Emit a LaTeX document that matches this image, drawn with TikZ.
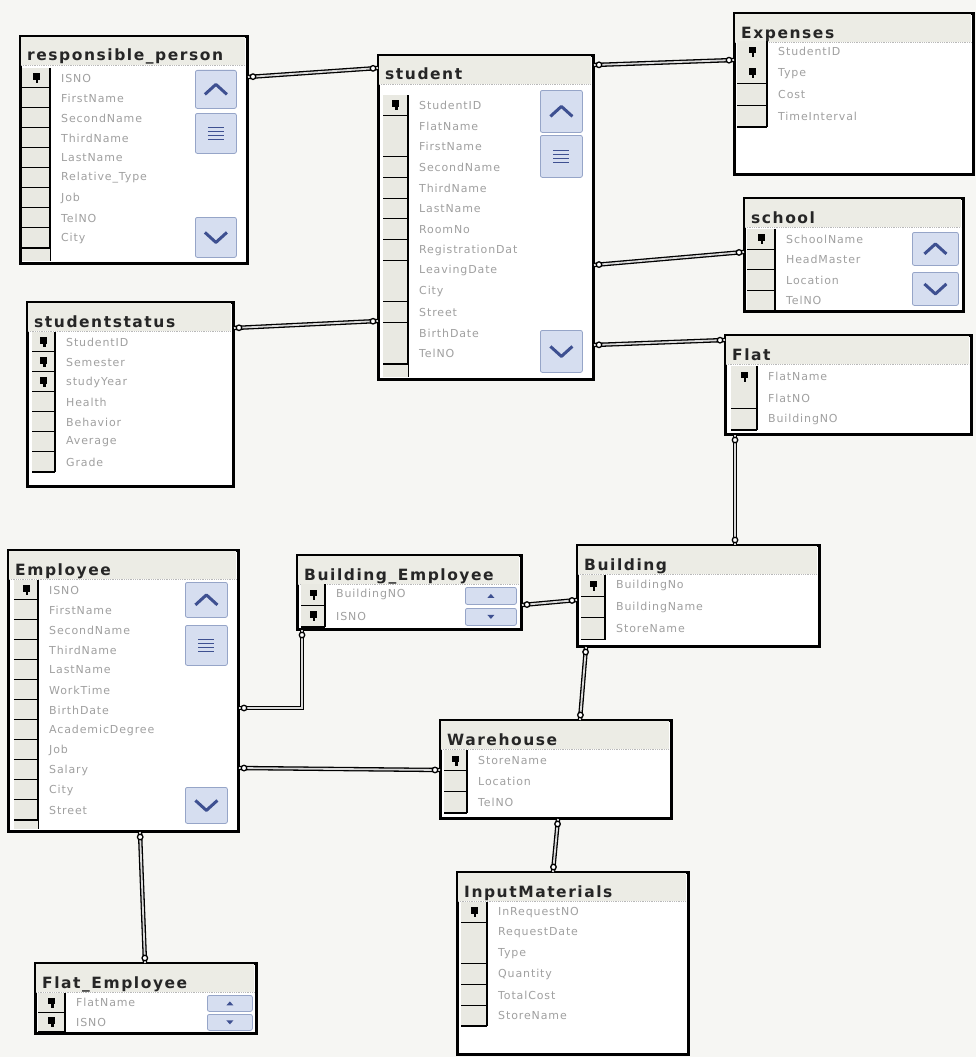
\documentclass[tikz,border=0pt]{standalone}
\usepackage{fontspec}
\setmainfont{DejaVu Sans}
\newfontfamily\ttlfont[LetterSpace=10]{DejaVu Sans}
\newfontfamily\fldfont[LetterSpace=8]{DejaVu Sans}
\usetikzlibrary{calc}
\definecolor{paper}{RGB}{246,246,243}
\definecolor{titlebg}{RGB}{236,236,229}
\definecolor{keybg}{RGB}{233,233,226}
\definecolor{fieldgray}{RGB}{160,160,160}
\definecolor{scrollfill}{RGB}{214,222,240}
\definecolor{scrolledge}{RGB}{150,165,200}
\definecolor{chev}{RGB}{62,80,145}
\tikzset{
 tbl/.style={draw=black, line width=2pt, fill=white, inner sep=0pt, rectangle},
 tblborder/.style={draw=black, line width=2pt},
 ttl/.style={font=\ttlfont\fontsize{15.5}{17}\selectfont\bfseries, text=black!85, inner sep=0pt, anchor=base west},
 fld/.style={font=\fldfont\fontsize{11}{12}\selectfont, text=fieldgray, inner sep=0pt, anchor=west},
 keyline/.style={line width=1.6pt, black},
 btn/.style={fill=scrollfill, draw=scrolledge, line width=0.8pt, rounded corners=2pt, inner sep=0pt},
 chevl/.style={draw=chev, line width=3pt, line join=round},
 rel/.style={draw=black, line width=1.3pt, double=gray!30, double distance=1.8pt},
 endm/.style={circle, draw=black, fill=white, line width=1.3pt, minimum size=5.5pt, inner sep=0pt},
}
% name, x, y, w, h, title
\newcommand\dbtable[6]{%
  \node[tbl, minimum width=#4pt, minimum height=#5pt, anchor=north west] (#1) at (#2,#3) {};
  \fill[titlebg] (#2+1,#3+1) rectangle (#2+#4-1,#3+29);
  \draw[gray!55, densely dotted, line width=0.8pt] (#2+1,#3+29) -- (#2+#4-1,#3+29);
  \node[ttl] (#1-title) at (#2+7,#3+25) {#6};
}
\newcommand\keyicon[2]{%
  \fill[black] (#1-3.5,#2-5) rectangle (#1+3.5,#2+1.5);
  \fill[black] (#1-0.5,#2+1.5) rectangle (#1+2,#2+5);
}
% name, keyL, keyR, top, rowh, vline end, list
\newcommand\dbfields[7]{%
  \foreach \f/\k [count=\i] in {#7} {
    \pgfmathsetmacro\yt{#4+(\i-1)*#5}
    \pgfmathsetmacro\yb{\yt+#5}
    \pgfmathsetmacro\ym{\yt+#5/2}
    \fill[keybg] (#2,\yt) rectangle (#3,\yb);
    \draw[keyline] (#2,\yb) -- (#3,\yb);
    \node[fld] (#1-f\i) at (#3+11,\ym) {\f};
    \ifnum\k=1 \keyicon{#2/2+#3/2}{\ym}\fi
  }
  \draw[keyline] (#3,#4) -- (#3,#6);
}
% name x y w h kind
\newcommand\sbtn[6]{%
  \node[btn, minimum width=#4pt, minimum height=#5pt, anchor=north west] (#1) at (#2,#3) {};
  \ifcase#6
    \draw[chevl] ($(#1.center)+(-11,5)$) -- ($(#1.center)+(0,-5)$) -- ($(#1.center)+(11,5)$);
  \or
    \foreach \dy in {-6,-2,2,6} {\draw[chev, line width=1pt] ($(#1.center)+(-8,\dy)$) -- ++(16,0);}
  \or
    \draw[chevl] ($(#1.center)+(-11,-5)$) -- ($(#1.center)+(0,5)$) -- ($(#1.center)+(11,-5)$);
  \or
    \fill[chev] ($(#1.center)+(-3.5,2)$) -- ($(#1.center)+(0,-2)$) -- ($(#1.center)+(3.5,2)$) -- cycle;
  \or
    \fill[chev] ($(#1.center)+(-3.5,-2)$) -- ($(#1.center)+(0,2)$) -- ($(#1.center)+(3.5,-2)$) -- cycle;
  \fi
}
\newcommand\reborder[1]{\draw[tblborder] (#1.north west) rectangle (#1.south east);}
\newcommand\conn[3]{%
  \draw[rel] (#2) -- (#3);
  \node[endm] (#1-s) at ($(#2)!5pt!(#3)$) {};
  \node[endm] (#1-e) at ($(#3)!5pt!(#2)$) {};
}
\begin{document}
\begin{tikzpicture}[x=1pt,y=-1pt]
\useasboundingbox (0,0) rectangle (976,1057);
\fill[paper] (0,0) rectangle (976,1057);

% responsible_person
\dbtable{rp}{20}{36}{226}{226}{responsible\_person}
\dbfields{rp}{22}{50}{68}{20}{261}{ISNO/1,FirstName/0,SecondName/0,ThirdName/0,LastName/0,Relative\_Type/0,Job/0,TelNO/0,City/0}
\fill[keybg] (22,249) rectangle (50,261);
\sbtn{rp-up}{195}{70}{41}{38}{0}
\sbtn{rp-mid}{195}{113}{41}{40}{1}
\sbtn{rp-dn}{195}{217}{41}{40}{2}
\reborder{rp}

% student
\dbtable{st}{378}{55}{214}{323}{student}
\dbfields{st}{383}{408}{95}{20.7}{377}{StudentID/1,FlatName/0,FirstName/0,SecondName/0,ThirdName/0,LastName/0,RoomNo/0,RegistrationDat/0,LeavingDate/0,City/0,Street/0,BirthDate/0,TelNO/0}
\fill[keybg] (383,365) rectangle (408,377);
\sbtn{st-up}{540}{90}{42}{42}{0}
\sbtn{st-mid}{540}{135}{42}{42}{1}
\sbtn{st-dn}{540}{330}{42}{42}{2}
\reborder{st}

% Expenses
\dbtable{ex}{734}{13}{238}{160}{Expenses}
\dbfields{ex}{737}{767}{41}{21.5}{127}{StudentID/1,Type/1,Cost/0,TimeInterval/0}
\reborder{ex}

% school
\dbtable{sc}{744}{198}{218}{112}{school}
\dbfields{sc}{747}{775}{229}{20.5}{310}{SchoolName/1,HeadMaster/0,Location/0,TelNO/0}
\sbtn{sc-up}{912}{232}{46}{33}{0}
\sbtn{sc-dn}{912}{272}{46}{33}{2}
\reborder{sc}

% studentstatus
\dbtable{ss}{27}{302}{205}{183}{studentstatus}
\dbfields{ss}{32}{55}{332}{20}{472}{StudentID/1,Semester/1,studyYear/1,Health/0,Behavior/0,Average/0,Grade/0}
\reborder{ss}

% Flat
\dbtable{fl}{725}{335}{245}{98}{Flat}
\dbfields{fl}{731}{757}{366}{21.3}{430}{FlatName/1,FlatNO/0,BuildingNO/0}
\reborder{fl}

% Employee
\dbtable{em}{8}{550}{229}{280}{Employee}
\dbfields{em}{14}{38}{580}{20}{829}{ISNO/1,FirstName/0,SecondName/0,ThirdName/0,LastName/0,WorkTime/0,BirthDate/0,AcademicDegree/0,Job/0,Salary/0,City/0,Street/0}
\fill[keybg] (14,821) rectangle (38,829);
\sbtn{em-up}{185}{582}{42}{35}{0}
\sbtn{em-mid}{185}{625}{42}{40}{1}
\sbtn{em-dn}{185}{787}{42}{36}{2}
\reborder{em}

% Building_Employee
\dbtable{be}{297}{555}{223}{73}{Building\_Employee}
\dbfields{be}{301}{325}{584}{21.5}{627}{BuildingNO/1,ISNO/1}
\sbtn{be-up}{465}{587}{51}{17}{3}
\sbtn{be-dn}{465}{608}{51}{17}{4}
\reborder{be}

% Building
\dbtable{bd}{577}{545}{241}{100}{Building}
\dbfields{bd}{581}{605}{575}{21.5}{640}{BuildingNo/1,BuildingName/0,StoreName/0}
\reborder{bd}

% Warehouse
\dbtable{wh}{440}{720}{230}{97}{Warehouse}
\dbfields{wh}{444}{467}{750}{21}{813}{StoreName/1,Location/0,TelNO/0}
\reborder{wh}

% InputMaterials
\dbtable{im}{457}{872}{230}{181}{InputMaterials}
\dbfields{im}{461}{487}{902}{20.7}{1026}{InRequestNO/1,RequestDate/0,Type/0,Quantity/0,TotalCost/0,StoreName/0}
\reborder{im}

% Flat_Employee
\dbtable{fe}{35}{963}{220}{69}{Flat\_Employee}
\dbfields{fe}{38}{65}{993}{19.5}{1032}{FlatName/1,ISNO/1}
\sbtn{fe-up}{207}{995}{45}{16}{3}
\sbtn{fe-dn}{207}{1014}{45}{16}{4}
\reborder{fe}

% connector end points
\coordinate (a1) at ($(rp.north east)+(0,41)$);
\coordinate (a2) at ($(st.north west)+(0,13)$);
\coordinate (b1) at ($(st.north east)+(0,10)$);
\coordinate (b2) at ($(ex.north west)+(0,47)$);
\coordinate (c1) at ($(st.north east)+(0,210)$);
\coordinate (c2) at ($(sc.north west)+(0,54)$);
\coordinate (d1) at ($(st.north east)+(0,290)$);
\coordinate (d2) at ($(fl.north west)+(0,5)$);
\coordinate (e1) at ($(ss.north east)+(0,26)$);
\coordinate (e2) at ($(st.north west)+(0,266)$);
\coordinate (f1) at ($(fl.south west)+(10,0)$);
\coordinate (f2) at ($(bd.north west)+(158,0)$);
\coordinate (g1) at ($(be.north east)+(0,50)$);
\coordinate (g2) at ($(bd.north west)+(0,55)$);
\coordinate (h1) at ($(be.south west)+(5,0)$);
\coordinate (h2) at ($(em.north east)+(0,158)$);
\coordinate (i1) at ($(em.north east)+(0,218)$);
\coordinate (i2) at ($(wh.north west)+(0,50)$);
\coordinate (j1) at ($(bd.south west)+(9,0)$);
\coordinate (j2) at ($(wh.north west)+(140,0)$);
\coordinate (k1) at ($(wh.south west)+(118,0)$);
\coordinate (k2) at ($(im.north west)+(96,0)$);
\coordinate (l1) at ($(em.south west)+(132,0)$);
\coordinate (l2) at ($(fe.north west)+(110,0)$);

\conn{ra}{a1}{a2}
\conn{rb}{b1}{b2}
\conn{rc}{c1}{c2}
\conn{rd}{d1}{d2}
\conn{re}{e1}{e2}
\conn{rf}{f1}{f2}
\conn{rg}{g1}{g2}
\draw[rel] (h1) |- (h2);
\node[endm] (rh-s) at ($(h1)+(0,5)$) {};
\node[endm] (rh-e) at ($(h2)+(5,0)$) {};
\conn{ri}{i1}{i2}
\conn{rj}{j1}{j2}
\conn{rk}{k1}{k2}
\conn{rl}{l1}{l2}
\end{tikzpicture}
\end{document}
